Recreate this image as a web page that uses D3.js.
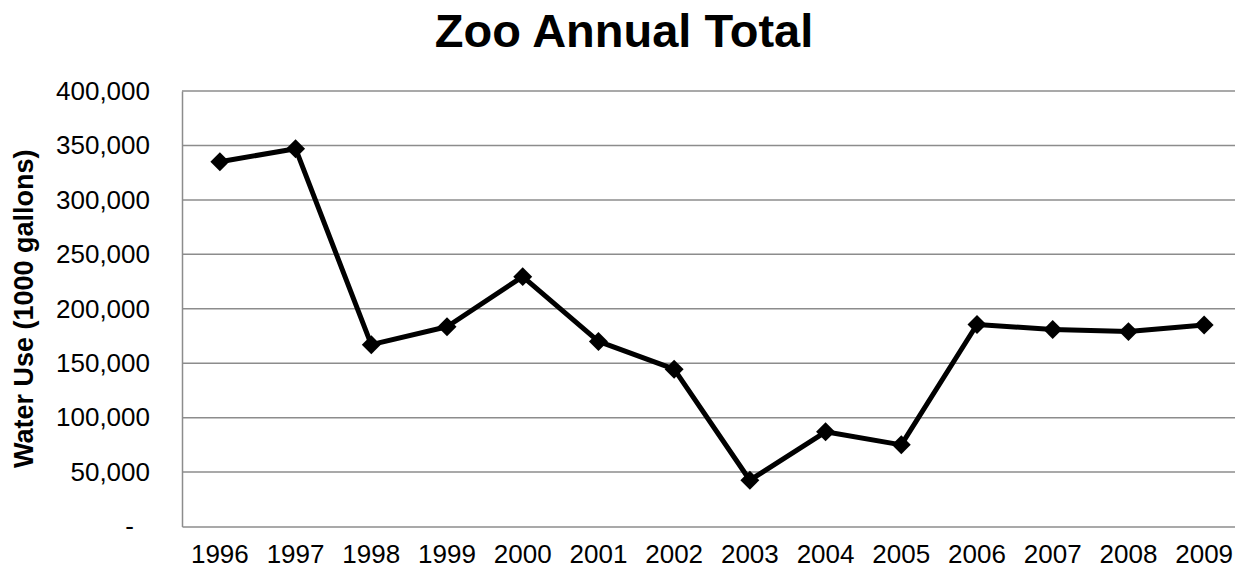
<!DOCTYPE html>
<html>
<head>
<meta charset="utf-8">
<script src="https://cdn.jsdelivr.net/npm/d3@7"></script>
<style>
  html, body { margin: 0; padding: 0; background: #fff; overflow: hidden; }
  svg { display: block; font-family: "Liberation Sans", Arial, sans-serif; }
</style>
</head>
<body>
<div id="chart"></div>
<script>
// chart data
const years = ["1996", "1997", "1998", "1999", "2000", "2001", "2002",
               "2003", "2004", "2005", "2006", "2007", "2008", "2009"];
const waterUse = [335000, 347000, 167000, 183500, 229500, 170000, 144500,
                  42500, 87000, 75000, 185500, 181000, 179000, 185000];
const yTicks = [0, 50000, 100000, 150000, 200000, 250000, 300000, 350000, 400000];

const width = 1235, height = 569;
// plot runs a little past the right edge, as in the reference
const margin = { top: 91, right: -7, bottom: 42.5, left: 182 };

const svg = d3.select("#chart").append("svg")
    .attr("width", width)
    .attr("height", height);

const x = d3.scaleBand()
    .domain(years)
    .range([margin.left, width - margin.right]);

const y = d3.scaleLinear()
    .domain([0, 400000])
    .range([height - margin.bottom, margin.top]);

// gridlines
svg.append("g")
    .selectAll("line")
    .data(yTicks.slice(1))
    .join("line")
    .attr("x1", margin.left)
    .attr("x2", width - margin.right)
    .attr("y1", d => y(d))
    .attr("y2", d => y(d))
    .attr("stroke", "#8c8c8c")
    .attr("stroke-width", 1.5);

// y axis
const fmt = d3.format(",");
const yAxis = svg.append("g")
    .attr("transform", `translate(${margin.left},0)`)
    .call(d3.axisLeft(y).tickValues(yTicks).tickSize(0).tickPadding(32)
        .tickFormat(d => d === 0 ? "-" : fmt(d)));
yAxis.select(".domain").attr("stroke", "#8c8c8c").attr("stroke-width", 1.5);
yAxis.selectAll("text")
    .attr("font-size", 26)
    .attr("fill", "#000")
    .attr("font-family", "Liberation Sans, Arial, sans-serif")
    .attr("dx", d => d === 0 ? -16 : 0);

// x axis
const xAxis = svg.append("g")
    .attr("transform", `translate(0,${y(0)})`)
    .call(d3.axisBottom(x).tickSize(0).tickPadding(18));
xAxis.select(".domain").attr("stroke", "#8c8c8c").attr("stroke-width", 1.5);
xAxis.selectAll("text")
    .attr("font-size", 26)
    .attr("fill", "#000")
    .attr("font-family", "Liberation Sans, Arial, sans-serif");

// line
const cx = d => x(d) + x.bandwidth() / 2;
const line = d3.line()
    .x((d, i) => cx(years[i]))
    .y(d => y(d));

svg.append("path")
    .datum(waterUse)
    .attr("d", line)
    .attr("fill", "none")
    .attr("stroke", "#000")
    .attr("stroke-width", 5)
    .attr("stroke-linejoin", "round");

// diamond markers
svg.append("g")
    .selectAll("path")
    .data(waterUse)
    .join("path")
    .attr("d", d3.symbol().type(d3.symbolSquare).size(180))
    .attr("transform", (d, i) => `translate(${cx(years[i])},${y(d)}) rotate(45)`)
    .attr("fill", "#000");

// title
svg.append("text")
    .attr("x", 624)
    .attr("y", 47)
    .attr("text-anchor", "middle")
    .attr("font-size", 47)
    .attr("font-weight", "bold")
    .text("Zoo Annual Total");

// y axis title
svg.append("text")
    .attr("transform", `translate(33,${(y(0) + y(400000)) / 2}) rotate(-90)`)
    .attr("text-anchor", "middle")
    .attr("font-size", 27)
    .attr("font-weight", "bold")
    .text("Water Use (1000 gallons)");
</script>
</body>
</html>
